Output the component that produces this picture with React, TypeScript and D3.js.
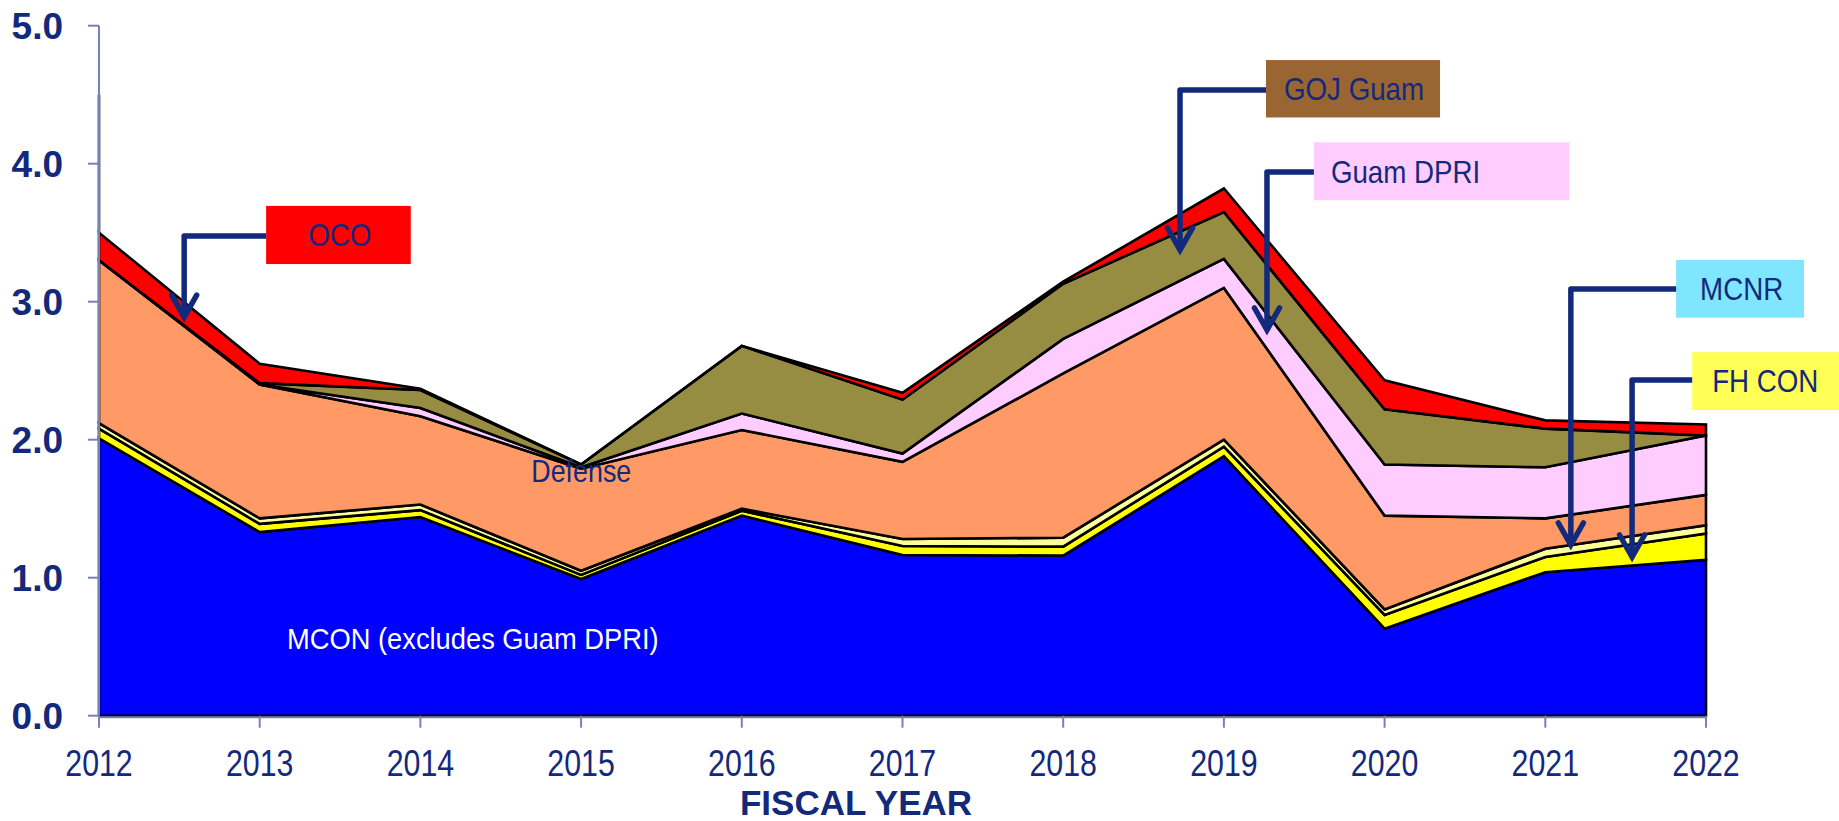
import { useMemo } from "react"
import * as d3 from "d3"

// fiscal years on the x axis
const years = [2012, 2013, 2014, 2015, 2016, 2017, 2018, 2019, 2020, 2021, 2022]

// stacked series, bottom to top ($B)
const mcon = [2.01, 1.33, 1.44, 0.99, 1.45, 1.165, 1.16, 1.88, 0.63, 1.04, 1.13]
const fhCon = [0.07, 0.06, 0.05, 0.03, 0.035, 0.065, 0.065, 0.07, 0.1, 0.11, 0.19]
const mcnr = [0.04, 0.04, 0.04, 0.03, 0.015, 0.05, 0.065, 0.05, 0.04, 0.06, 0.06]
const defense = [1.18, 0.97, 0.64, 0.74, 0.57, 0.56, 1.19, 1.1, 0.68, 0.22, 0.22]
const guamDpri = [0, 0, 0.06, 0.01, 0.12, 0.06, 0.25, 0.21, 0.37, 0.37, 0.43]
const gojGuam = [0, 0.01, 0.13, 0.02, 0.49, 0.39, 0.4, 0.34, 0.4, 0.28, 0]
const oco = [0.2, 0.14, 0.01, 0, 0, 0.05, 0.015, 0.17, 0.21, 0.06, 0.08]

// stray black line drawn above the 2012 stack
const spikeYear = 2012
const spikeTop = 4.5

const yTicks = [0, 1, 2, 3, 4, 5]

const seriesKeys = ["mcon", "fhCon", "mcnr", "defense", "guamDpri", "gojGuam", "oco"]
const seriesColors: Record<string, string> = {
  mcon: "#0000ff",
  fhCon: "#ffff00",
  mcnr: "#ffff99",
  defense: "#ff9966",
  guamDpri: "#ffccff",
  gojGuam: "#968c42",
  oco: "#ff0000",
}

const NAVY = "#13297b"
const AXIS = "#7682b6"
const SANS = "'Liberation Sans', Arial, sans-serif"

// callout boxes, placed in data units (year, value)
const callouts = [
  { label: "OCO", fill: "#ff0000", x0: 2013.04, x1: 2013.94, y0: 3.694, y1: 3.273, textDx: 42, arrowY: 3.476, elbow: 2012.53, tip: 2.888 },
  { label: "GOJ Guam", fill: "#996633", x0: 2019.262, x1: 2020.345, y0: 4.751, y1: 4.335, textDx: 18, arrowY: 4.534, elbow: 2018.727, tip: 3.375 },
  { label: "Guam DPRI", fill: "#ffccff", x0: 2019.56, x1: 2021.15, y0: 4.155, y1: 3.735, textDx: 17, arrowY: 3.94, elbow: 2019.268, tip: 2.795 },
  { label: "MCNR", fill: "#80e5ff", x0: 2021.814, x1: 2022.61, y0: 3.302, y1: 2.884, textDx: 24, arrowY: 3.092, elbow: 2021.159, tip: 1.237 },
  { label: "FH CON", fill: "#ffff55", x0: 2021.914, x1: 2022.83, y0: 2.634, y1: 2.215, textDx: 20, arrowY: 2.433, elbow: 2021.54, tip: 1.15 },
]

// Liberation Sans squeezed horizontally to look like Arial Narrow
function Narrow({ x, y, size, fill, anchor = "start", dy, squeeze = 0.88, children }: any) {
  return (
    <text
      transform={`translate(${x},${y}) scale(${squeeze},1)`}
      dy={dy}
      textAnchor={anchor}
      fontFamily={SANS}
      fontSize={size}
      fill={fill}
    >
      {children}
    </text>
  )
}

export default function App() {
  const width = 1839
  const height = 821
  const margin = { top: 25.7, right: 133, bottom: 105.3, left: 99 }

  const x = d3
    .scaleLinear()
    .domain([years[0], years[years.length - 1]])
    .range([margin.left, width - margin.right])
  const y = d3
    .scaleLinear()
    .domain([0, 5])
    .range([height - margin.bottom, margin.top])

  const layers = useMemo(() => {
    const rows = years.map((yr, i) => ({
      year: yr,
      mcon: mcon[i],
      fhCon: fhCon[i],
      mcnr: mcnr[i],
      defense: defense[i],
      guamDpri: guamDpri[i],
      gojGuam: gojGuam[i],
      oco: oco[i],
    }))
    return d3.stack<any>().keys(seriesKeys)(rows)
  }, [])

  const area = d3
    .area<any>()
    .x((d) => x(d.data.year))
    .y0((d) => y(d[0]))
    .y1((d) => y(d[1]))

  const x0 = x(years[0])
  const x1 = x(years[years.length - 1])
  const yBase = y(0)
  const top2012 = layers[layers.length - 1][0][1]

  return (
    <svg width={width} height={height} style={{ position: "absolute", left: 0, top: 0, background: "#fff" }}>
      {/* stacked areas */}
      {layers.map((layer) => (
        <path
          key={layer.key}
          d={area(layer) || ""}
          fill={seriesColors[layer.key]}
          stroke="#000"
          strokeWidth={2.6}
          strokeLinejoin="miter"
        />
      ))}

      <line x1={x(spikeYear)} x2={x(spikeYear)} y1={y(top2012)} y2={y(spikeTop)} stroke="#000" strokeWidth={2.6} />

      {/* axes */}
      <line x1={x0} x2={x0} y1={y(5)} y2={yBase} stroke={AXIS} strokeWidth={2} />
      <line x1={x0} x2={x1} y1={yBase + 1.5} y2={yBase + 1.5} stroke={AXIS} strokeWidth={2} />
      {yTicks.map((t) => (
        <g key={t}>
          <line x1={x0 - 11} x2={x0} y1={y(t)} y2={y(t)} stroke={AXIS} strokeWidth={2} />
          <text
            x={63}
            y={y(t)}
            dy="0.36em"
            textAnchor="end"
            fontFamily={SANS}
            fontWeight="bold"
            fontSize={37}
            fill={NAVY}
          >
            {t.toFixed(1)}
          </text>
        </g>
      ))}
      {years.map((yr) => (
        <g key={yr}>
          <line x1={x(yr)} x2={x(yr)} y1={yBase} y2={yBase + 12} stroke={AXIS} strokeWidth={2} />
          <Narrow x={x(yr)} y={yBase + 60} size={37} fill={NAVY} anchor="middle" squeeze={0.82}>
            {yr}
          </Narrow>
        </g>
      ))}
      <text x={856} y={815} textAnchor="middle" fontFamily={SANS} fontWeight="bold" fontSize={35} fill={NAVY}>
        FISCAL YEAR
      </text>

      {/* in-chart labels */}
      <Narrow x={x(2014.69)} y={y(1.69)} size={30.5} fill={NAVY}>
        Defense
      </Narrow>
      <Narrow x={x(2013.17)} y={y(0.48)} size={30} fill="#fff" squeeze={0.91}>
        MCON (excludes Guam DPRI)
      </Narrow>

      {/* callouts */}
      {callouts.map((c) => {
        const bx = x(c.x0)
        const by = y(c.y0)
        const bw = x(c.x1) - x(c.x0)
        const bh = y(c.y1) - y(c.y0)
        const ay = y(c.arrowY)
        const ex = x(c.elbow)
        const ty = y(c.tip)
        return (
          <g key={c.label}>
            <rect x={bx} y={by} width={bw} height={bh} fill={c.fill} />
            <Narrow x={bx + c.textDx} y={by + bh / 2} dy="0.36em" size={31.5} fill={NAVY}>
              {c.label}
            </Narrow>
            <path
              d={`M${bx},${ay}H${ex}V${ty}`}
              fill="none"
              stroke={NAVY}
              strokeWidth={5.5}
              strokeLinejoin="round"
            />
            <path
              d={`M${ex - 12.5},${ty - 22}L${ex},${ty}L${ex + 12.5},${ty - 22}`}
              fill="none"
              stroke={NAVY}
              strokeWidth={5.5}
              strokeLinecap="round"
              strokeLinejoin="miter"
            />
          </g>
        )
      })}
    </svg>
  )
}
